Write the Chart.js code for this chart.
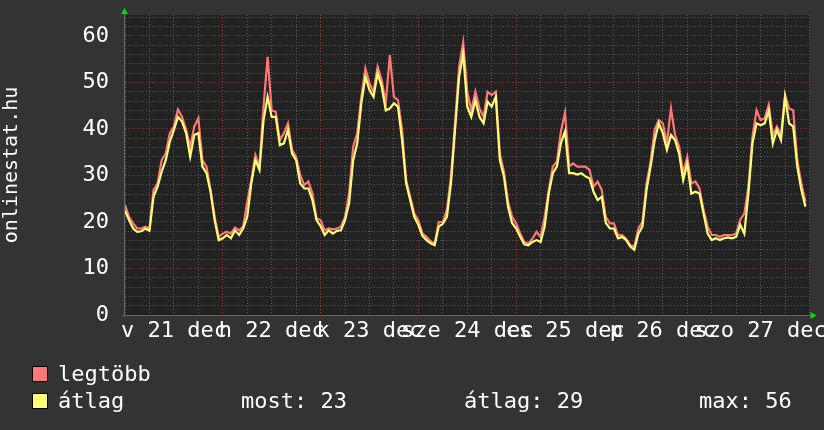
<!DOCTYPE html>
<html>
<head>
<meta charset="utf-8">
<script src="https://cdn.jsdelivr.net/npm/chart.js@4/dist/chart.umd.min.js"></script>
<style>
  html, body { margin: 0; padding: 0; background: #333333; }
  #wrap { position: relative; width: 824px; height: 430px; background: #333333; overflow: hidden; }
  #c { position: absolute; left: 0; top: 0; }
  .leg { position: absolute; font-family: "DejaVu Sans Mono", monospace; font-size: 22px; color: #ffffff; height: 28px; line-height: 28px; white-space: pre; }
  .sw { position: absolute; width: 14px; height: 14px; border: 1px solid #000; }
</style>
</head>
<body>
<div id="wrap">
  <canvas id="c" width="824" height="430"></canvas>
  <div class="sw" id="sw1" style="left:32px; top:366px;"></div>
  <div class="leg" id="n1" style="left:58px; top:360px;"></div>
  <div class="sw" id="sw2" style="left:32px; top:393px;"></div>
  <div class="leg" id="n2" style="left:58px; top:387px;"></div>
  <div class="leg" id="s1" style="left:241px; top:387px;"></div>
  <div class="leg" id="s2" style="left:464px; top:387px;"></div>
  <div class="leg" id="s3" style="left:699px; top:387px;"></div>
</div>
<script>
// ---- data (hourly, 21 Dec 00:00 .. 27 Dec 23:00) ----
const dayLabels = ['v 21 dec', 'h 22 dec', 'k 23 dec', 'sze 24 dec', 'cs 25 dec', 'p 26 dec', 'szo 27 dec'];
const seriesNames = ['legtöbb', 'átlag'];
const axisTitle = 'onlinestat.hu';
const statNames = ['most', 'átlag', 'max'];

const maxValues = [
  23.6,21.1,19.7,18.6,18.6,19.0,18.6,26.9,28.3,33.3,34.7,39.1,40.5,44.2,42.6,39.8,36.2,40.5,42.3,33.3,31.9,26.9,21.1,16.8,
  17.5,17.9,17.5,18.8,18.2,19.0,24.3,29.0,34.4,31.9,44.8,55.5,44.0,43.7,37.6,39.1,41.2,35.5,34.0,30.1,27.9,28.7,26.1,20.8,
  20.4,18.2,18.6,18.4,18.6,19.0,21.1,26.1,36.2,39.1,46.9,53.0,49.8,48.0,53.4,50.5,45.5,55.9,46.9,46.2,39.8,29.0,25.4,21.8,
  20.4,17.5,16.8,15.8,15.4,20.0,20.0,22.6,29.8,41.2,53.4,58.6,48.0,44.0,48.0,44.4,42.6,48.0,47.3,48.0,34.7,30.8,24.4,21.1,
  19.7,17.5,15.7,15.4,16.4,17.9,16.8,21.1,26.9,31.9,33.0,39.5,43.5,32.0,32.6,31.9,31.9,31.9,31.2,27.6,28.7,26.9,21.1,19.7,
  19.7,17.2,17.2,16.4,15.0,14.7,18.6,20.0,28.3,33.0,39.8,41.9,41.2,37.0,44.4,38.7,36.2,30.5,34.0,28.3,28.7,27.2,22.6,19.0,
  17.2,17.2,16.8,17.2,17.2,17.2,17.5,20.5,21.8,27.6,38.3,44.0,41.9,42.3,45.2,38.7,40.5,38.7,47.3,44.4,44.0,33.3,28.3,24.4
];
const avgValues = [
  22.4,20.4,18.6,17.9,18.0,18.6,18.1,25.4,27.6,30.8,33.3,37.3,39.8,42.6,41.6,39.1,34.0,38.7,39.1,31.9,30.5,26.5,20.4,16.1,
  16.5,17.2,16.5,18.2,17.2,18.6,21.1,28.3,33.3,31.2,41.9,46.9,42.6,42.6,36.5,36.9,39.8,34.7,33.3,28.3,27.2,27.2,24.7,20.4,
  19.1,17.2,18.2,17.5,18.1,18.2,20.4,24.0,33.3,36.9,45.5,51.2,48.4,46.9,52.0,49.1,44.0,44.4,45.5,44.8,37.6,28.3,24.7,21.1,
  19.4,17.0,16.1,15.4,15.0,19.0,19.6,21.1,28.3,39.8,51.2,56.3,44.8,42.6,46.2,42.6,41.2,45.9,44.8,46.9,33.3,29.8,23.3,19.8,
  18.6,16.8,15.2,15.0,15.7,16.1,15.7,19.0,26.1,30.5,31.9,37.0,39.5,30.5,30.5,30.2,30.5,29.8,29.4,26.5,24.7,25.4,19.8,18.6,
  18.6,16.5,16.8,16.1,14.7,14.0,17.5,19.0,26.9,31.9,37.6,41.2,39.1,35.5,38.7,37.6,34.7,29.0,32.6,26.1,26.5,26.1,21.8,17.5,
  16.1,16.5,16.1,16.5,16.7,16.5,16.8,19.4,17.5,26.1,36.9,41.2,40.8,41.2,44.0,36.9,39.8,37.6,46.9,41.2,40.5,31.9,26.9,23.3
];

// ---- styles ----
const FONT = '"DejaVu Sans Mono", monospace';
const RED = '#ff7777', YELLOW = '#ffff77';
const MINOR = '#5a5a5a', MAJOR = 'rgba(170,55,55,0.95)';

const toPoints = arr => arr.map((v, i) => ({ x: i, y: v }));

// ---- legend (HTML text) ----
document.getElementById('n1').textContent = seriesNames[0];
document.getElementById('n2').textContent = seriesNames[1];
document.getElementById('sw1').style.background = RED;
document.getElementById('sw2').style.background = YELLOW;
const most = avgValues[avgValues.length - 1];
const mean = avgValues.reduce((a, b) => a + b, 0) / avgValues.length;
const mx = Math.max(...avgValues);
document.getElementById('s1').textContent = statNames[0] + ': ' + Math.round(most);
document.getElementById('s2').textContent = statNames[1] + ': ' + Math.round(mean);
document.getElementById('s3').textContent = statNames[2] + ': ' + Math.round(mx);

const bgPlugin = {
  id: 'bg',
  beforeDraw(chart) {
    const { ctx, chartArea: a } = chart;
    ctx.save();
    ctx.fillStyle = '#222222';
    ctx.fillRect(a.left, a.top, a.right - a.left, a.bottom - a.top);
    ctx.restore();
  },
  afterDraw(chart) {
    const { ctx, chartArea: a } = chart;
    ctx.save();
    ctx.strokeStyle = '#666666';
    ctx.lineWidth = 1;
    ctx.beginPath();
    ctx.moveTo(a.left - 0.5, a.bottom + 2);
    ctx.lineTo(a.left - 0.5, a.top - 3);
    ctx.moveTo(a.left - 3, a.bottom + 0.5);
    ctx.lineTo(a.right + 3, a.bottom + 0.5);
    ctx.stroke();
    ctx.fillStyle = '#00dd00';
    ctx.beginPath();
    ctx.moveTo(a.left - 0.5, a.top - 7);
    ctx.lineTo(a.left - 4, a.top - 1);
    ctx.lineTo(a.left + 3, a.top - 1);
    ctx.closePath();
    ctx.fill();
    ctx.beginPath();
    ctx.moveTo(a.right + 7, a.bottom + 0.5);
    ctx.lineTo(a.right + 1, a.bottom - 3);
    ctx.lineTo(a.right + 1, a.bottom + 4);
    ctx.closePath();
    ctx.fill();
    ctx.restore();
  }
};

new Chart(document.getElementById('c'), {
  type: 'line',
  data: {
    datasets: [
      { label: seriesNames[0], data: toPoints(maxValues), borderColor: RED, borderWidth: 2.2, pointRadius: 0, tension: 0, order: 2 },
      { label: seriesNames[1], data: toPoints(avgValues), borderColor: YELLOW, borderWidth: 2.2, pointRadius: 0, tension: 0, order: 1 }
    ]
  },
  options: {
    responsive: false,
    animation: false,
    events: [],
    layout: { padding: { left: 0, right: 14.5, top: 15, bottom: 0 } },
    plugins: { legend: { display: false }, tooltip: { enabled: false } },
    scales: {
      x: {
        type: 'linear', min: 0, max: 168,
        afterFit(s) { s.height = 115; s.paddingLeft = 0; s.paddingRight = 0; },
        border: { display: false, dash: [1, 2] },
        grid: {
          drawTicks: false,
          color: c => (c.tick && c.tick.value % 24 === 0) ? MAJOR : MINOR,
          lineWidth: 1
        },
        ticks: {
          stepSize: 6, autoSkip: false, maxRotation: 0, minRotation: 0, padding: 3,
          color: '#ffffff', font: { family: FONT, size: 22 },
          callback: v => (v % 24 === 12) ? dayLabels[(v - 12) / 24] : ''
        }
      },
      y: {
        min: 0, max: 64.5,
        afterFit(s) { s.width = 125; s.paddingTop = 0; s.paddingBottom = 0; },
        border: { display: false, dash: [1, 2] },
        grid: {
          drawTicks: false,
          color: c => (c.tick && c.tick.value % 10 === 0) ? MAJOR : MINOR,
          lineWidth: 1
        },
        title: { display: true, text: axisTitle, color: '#ffffff', font: { family: FONT, size: 20 }, padding: 0 },
        ticks: {
          stepSize: 2, includeBounds: false, autoSkip: false, padding: 16,
          color: '#ffffff', font: { family: FONT, size: 22 },
          callback: v => (v % 10 === 0) ? String(v) : ''
        }
      }
    }
  },
  plugins: [bgPlugin]
});
</script>
</body>
</html>
